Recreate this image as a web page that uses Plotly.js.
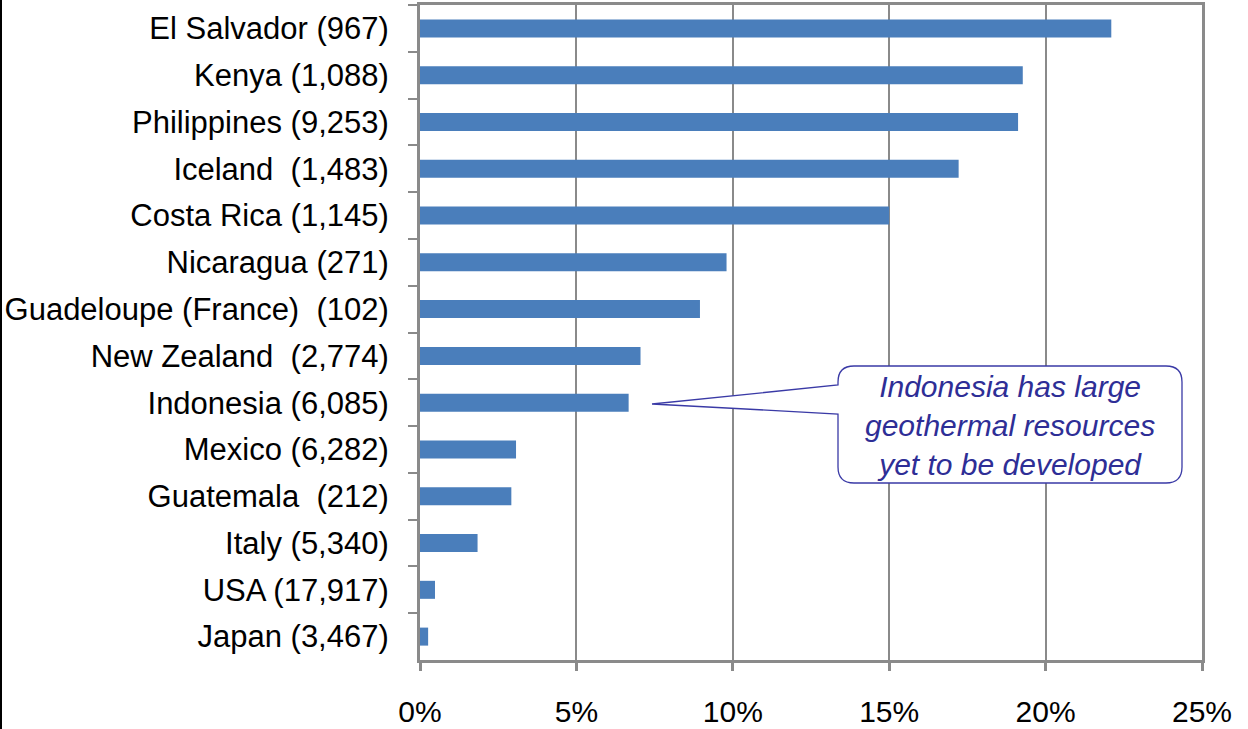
<!DOCTYPE html>
<html>
<head>
<meta charset="utf-8">
<script src="https://cdn.plot.ly/plotly-3.0.1.min.js"></script>
<style>html,body{margin:0;padding:0;background:#fff;}#chart{width:1248px;height:729px;}</style>
</head>
<body>
<div id="chart"></div>
<script>
// Data (top to bottom)
const categories = [
  "El Salvador (967)",
  "Kenya (1,088)",
  "Philippines (9,253)",
  "Iceland\u00a0 (1,483)",
  "Costa Rica (1,145)",
  "Nicaragua (271)",
  "Guadeloupe (France)\u00a0 (102)",
  "New Zealand\u00a0 (2,774)",
  "Indonesia (6,085)",
  "Mexico (6,282)",
  "Guatemala\u00a0 (212)",
  "Italy (5,340)",
  "USA (17,917)",
  "Japan (3,467)"
];
const shares = [22.1, 19.27, 19.12, 17.22, 15.0, 9.8, 8.95, 7.05, 6.67, 3.07, 2.92, 1.84, 0.48, 0.26];
const xTickVals = [0, 5, 10, 15, 20, 25];
const xTickText = ["0%", "5%", "10%", "15%", "20%", "25%"];
const calloutText = "Indonesia has large<br>geothermal resources<br>yet to be developed";

// Layout geometry (pixels)
const W = 1248, H = 729;
const L = 420, R = 1202, T = 5, B = 660;
const pw = R - L, ph = B - T;
const px = x => (x - L) / pw;
const py = y => (B - y) / ph;
const P = (x, y) => px(x).toFixed(5) + "," + py(y).toFixed(5);

// Callout path
const bx0 = 838, bx1 = 1182, by0 = 366, by1 = 483, r = 16;
const tip = [652, 404];
const calloutPath =
  "M" + P(bx0 + r, by0) +
  " L" + P(bx1 - r, by0) +
  " Q" + P(bx1, by0) + " " + P(bx1, by0 + r) +
  " L" + P(bx1, by1 - r) +
  " Q" + P(bx1, by1) + " " + P(bx1 - r, by1) +
  " L" + P(bx0 + r, by1) +
  " Q" + P(bx0, by1) + " " + P(bx0, by1 - r) +
  " L" + P(bx0, 414) +
  " L" + P(tip[0], tip[1]) +
  " L" + P(bx0, 385) +
  " L" + P(bx0, by0 + r) +
  " Q" + P(bx0, by0) + " " + P(bx0 + r, by0) + " Z";

const font = "Liberation Sans, Arial, sans-serif";
const axisGray = "#8a8a8a";

const trace = {
  type: "bar",
  orientation: "h",
  y: categories,
  x: shares,
  marker: {color: "#4a7ebb"},
  hoverinfo: "none"
};

const layout = {
  width: W, height: H,
  margin: {l: L, r: W - R, t: T, b: H - B, pad: 0},
  paper_bgcolor: "#ffffff",
  plot_bgcolor: "#ffffff",
  showlegend: false,
  bargap: 0.615,
  xaxis: {
    range: [0, 25],
    tickvals: xTickVals,
    ticktext: xTickText,
    showgrid: true, gridcolor: axisGray, gridwidth: 2,
    showline: true, linecolor: axisGray, linewidth: 3, mirror: true,
    ticks: "outside", ticklen: 8, tickwidth: 3, tickcolor: axisGray,
    ticklabelstandoff: 15,
    zeroline: false,
    tickfont: {family: font, size: 30, color: "#000"},
    fixedrange: true, automargin: false
  },
  yaxis: {
    type: "category",
    autorange: "reversed",
    tickson: "boundaries",
    showgrid: false,
    showline: true, linecolor: axisGray, linewidth: 3, mirror: true,
    ticks: "outside", ticklen: 9, tickwidth: 2, tickcolor: axisGray,
    ticklabelstandoff: 22,
    tickfont: {family: font, size: 31, color: "#000"},
    fixedrange: true, automargin: false
  },
  shapes: [
    {type: "path", xref: "paper", yref: "paper", path: calloutPath,
     fillcolor: "#ffffff", line: {color: "#3a3aa6", width: 1.3}, layer: "above"},
    {type: "line", xref: "paper", yref: "paper",
     x0: px(1), x1: px(1), y0: py(0), y1: py(H),
     line: {color: "#000", width: 2}}
  ],
  annotations: [
    {xref: "paper", yref: "paper", x: px((bx0 + bx1) / 2), y: py((by0 + by1) / 2 + 1),
     xanchor: "center", yanchor: "middle", showarrow: false,
     text: calloutText, align: "center",
     font: {family: font, size: 30, color: "#2e2e96", style: "italic"}}
  ]
};

Plotly.newPlot("chart", [trace], layout, {displayModeBar: false, staticPlot: true});
</script>
</body>
</html>
